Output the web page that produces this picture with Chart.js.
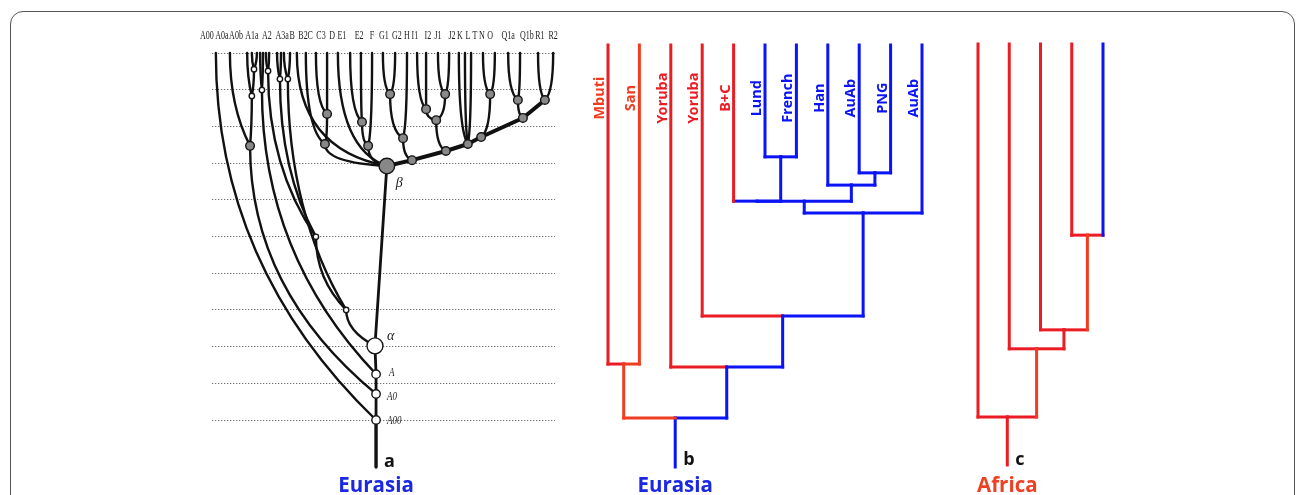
<!DOCTYPE html>
<html>
<head>
<meta charset="utf-8">
<title>Y tree rooting</title>
<script src="https://cdn.jsdelivr.net/npm/chart.js"></script>
<style>
html, body { margin: 0; padding: 0; background: #fff; }
#page { position: relative; width: 1296px; height: 495px; overflow: hidden; }
#page canvas { position: absolute; left: 0; top: 0; }
#frame { position: absolute; left: 10px; top: 11px; width: 1285px; height: 530px;
  border: 1.5px solid #555; border-radius: 13px; box-sizing: border-box; }
</style>
</head>
<body>
<div id="page">
  <div id="frame"></div>
  <canvas id="treeA" width="1296" height="495"></canvas>
  <canvas id="treeB" width="1296" height="495"></canvas>
  <canvas id="treeC" width="1296" height="495"></canvas>
</div>
<script>
const RED = '#ea1c24', ORANGE = '#ef3d22', BLUE = '#0b14f4', INK = '#111';

// ---- panel a: scanned haplogroup tree (x in scan units, y in grid rows) ----
const hapLabels = ['A00','A0a','A0b','A1a','A2','A3a','B','B2','C','C3','D','E1','E2','F','G1','G2',
  'H','I1','I2','J1','J2','K','L','T','N','O','Q1a','Q1b','R1','R2'];
const hapLabelPos = [1.9,6.1,10.0,14.4,18.6,22.8,25.6,28.6,30.6,33.6,36.7,39.4,44.2,47.8,51.1,54.7,
  57.5,59.7,63.3,66.1,70.0,72.2,74.4,76.4,78.3,80.6,85.6,90.8,94.4,98.1];

const nodeParentA = [-1,0,1,2,3,4, 1,2,7,7,9,9,11,11, 3,14,14, 4,17,18,19,19,18,22,22,17,25,25,
  5,5,29,29,31,31,5,5,35,36,36,35, 5,40,41,42,42,41, 40,46,47,48,48,47,51,51,
  46,54,54,54,54,58,59,59,58,62,63,63,62,66,66];
const nodeXA = [48.9,48.9,48.9,48.9,48.6,51.9, 4.4,13.9,8.3,14.4,13.1,15.0,14.4,15.8, 17.2,16.7,17.5,
  40.6,32.2,18.9,18.3,19.2,22.2,21.4,22.5,24.4,23.3,25.0,
  26.9,34.7,29.4,35.3,32.2,35.3,38.3,46.7,45.0,41.7,44.7,47.8, 58.9,56.4,52.8,50.8,54.2,57.5,
  68.3,65.6,62.8,60.3,62.8,68.1,66.1,69.2, 74.4,71.9,73.6,75.3,78.1,80.6,78.6,81.9,
  89.7,88.3,85.6,88.9,95.8,93.9,98.1];
const nodeYA = [-1.28,0,0.71,1.25,2.02,6.92, 10,7.47,10,8.83,10,9.56,10,10, 8.99,10,10,
  3.0,4.99,9.51,10,10,9.29,10,10,9.29,10,10,
  10,7.52,10,8.34,10,10,10,7.47,8.12,10,10,10, 7.08,7.68,8.88,10,10,10,
  7.33,8.17,8.47,10,10,8.88,10,10, 7.52,10,10,10,7.71,8.88,10,10,
  8.23,8.72,10,10,8.72,10,10];
const nodeKindA = ['none','ring','ring','ring','bigRing','hub', 'leaf','grey','leaf','dot','leaf','dot','leaf','leaf',
  'dot','leaf','leaf', 'dot','dot','dot','leaf','leaf','dot','leaf','leaf','dot','leaf','leaf',
  'leaf','grey','leaf','grey','leaf','leaf','leaf','grey','grey','leaf','leaf','leaf',
  'grey','grey','grey','leaf','leaf','leaf', 'grey','grey','grey','leaf','leaf','grey','leaf','leaf',
  'grey','leaf','leaf','leaf','grey','grey','leaf','leaf', 'grey','grey','leaf','leaf','grey','leaf','leaf'];
const nodeTagA = { 1: 'A00', 2: 'A0', 3: 'A', 4: 'α', 5: 'β' };

// ---- panel b: Eurasia-rooted tree (leaf index, branch height 0-100) ----
const leavesB = ['Mbuti','San','Yoruba','Yoruba','B+C','Lund','French','Han','AuAb','PNG','AuAb'];
const joinsB = [[5,6],[8,9],[7,12],[4,11],[14,13],[15,10],[3,16],[2,17],[0,1],[19,18]];
const joinHeightB = [73.5, 69.7, 66.8, 63.0, 63.0, 60.2, 35.8, 23.7, 24.4, 11.6];

// ---- panel c: Africa-rooted tree ----
const joinsC = [[3,4],[2,5],[1,6],[0,7]];
const joinHeightC = [54.6, 32.1, 27.6, 11.4];
const leafCountC = 5;

// styles
const vColB = [RED,ORANGE,RED,RED,RED,BLUE,BLUE,BLUE,BLUE,BLUE,BLUE, BLUE,BLUE,BLUE,BLUE,BLUE,BLUE,BLUE,BLUE,ORANGE,BLUE];
const hColB = [RED,ORANGE,RED,RED,BLUE,BLUE,BLUE,BLUE,BLUE,BLUE,BLUE, BLUE,BLUE,BLUE,BLUE,BLUE,BLUE,BLUE,BLUE,ORANGE,BLUE];
const labelColB = [ORANGE,ORANGE,RED,RED,RED,BLUE,BLUE,BLUE,BLUE,BLUE,BLUE];
const vColC = [RED,RED,RED,RED,BLUE,ORANGE,RED,ORANGE,RED];
const hColC = [RED,RED,RED,RED,RED,RED,RED,RED,RED];

const KIND = {
  ring:    { r: 4.2, fill: '#fff' },
  bigRing: { r: 8,   fill: '#fff' },
  dot:     { r: 2.7, fill: '#fff' },
  grey:    { r: 4.3, fill: '#888' },
  hub:     { r: 7.8, fill: '#888' }
};
const trunkA = [1, 2, 3, 4, 5];
const spineA = [40, 46, 54, 58, 62, 66];
const tagOffsetA = { 1: [11, 1], 2: [11, 3], 3: [13, -1], 4: [12, -10], 5: [9, 17] };

function underBeta(i) {
  while (i >= 0) { if (i === 5) return true; i = nodeParentA[i]; }
  return false;
}

function caption(chart, rx, ry, letter, region, color) {
  const ctx = chart.ctx;
  ctx.save();
  ctx.fillStyle = '#111';
  ctx.font = 'bold 18px "Open Sans"';
  ctx.textAlign = 'left';
  ctx.textBaseline = 'alphabetic';
  ctx.fillText(letter, rx + 8, ry);
  ctx.fillStyle = color;
  ctx.font = 'bold 20.5px "Open Sans"';
  ctx.textAlign = 'center';
  ctx.fillText(region, rx, 492);
  ctx.restore();
}

const treeAPlugin = {
  id: 'treeA',
  beforeDatasetsDraw(chart) {
    const { ctx, scales: { x, y } } = chart;
    ctx.save();
    ctx.strokeStyle = INK;
    ctx.lineCap = 'round';
    nodeParentA.forEach((p, i) => {
      if (p < 0) return;
      const x0 = x.getPixelForValue(nodeXA[p]), y0 = y.getPixelForValue(nodeYA[p]);
      const x1 = x.getPixelForValue(nodeXA[i]), y1 = y.getPixelForValue(nodeYA[i]);
      ctx.beginPath();
      ctx.moveTo(x0, y0);
      if (trunkA.includes(i) || spineA.includes(i)) {
        ctx.lineWidth = spineA.includes(i) ? 4 : 2.8;
        ctx.lineTo(x1, y1);
      } else {
        ctx.lineWidth = 2.4;
        const f = underBeta(i) ? 0.15 : 0.42;
        ctx.quadraticCurveTo(x1, y0 + (y1 - y0) * f, x1, y1);
      }
      ctx.stroke();
    });
    // root stem
    ctx.lineWidth = 3;
    ctx.beginPath();
    ctx.moveTo(x.getPixelForValue(nodeXA[0]), y.getPixelForValue(nodeYA[0]));
    ctx.lineTo(x.getPixelForValue(nodeXA[1]), y.getPixelForValue(nodeYA[1]));
    ctx.stroke();
    ctx.restore();
  },
  afterDatasetsDraw(chart) {
    const { ctx, scales: { x, y } } = chart;
    ctx.save();
    ctx.fillStyle = '#222';
    ctx.font = '12.5px "Liberation Serif"';
    ctx.textAlign = 'center';
    ctx.textBaseline = 'alphabetic';
    const base = y.getPixelForValue(10) - 14;
    hapLabels.forEach((t, i) => {
      ctx.save();
      ctx.translate(x.getPixelForValue(hapLabelPos[i]), base);
      ctx.scale(0.64, 1);
      ctx.fillText(t, 0, 0);
      ctx.restore();
    });
    ctx.textAlign = 'left';
    ctx.textBaseline = 'middle';
    Object.keys(nodeTagA).forEach(k => {
      const t = nodeTagA[k], off = tagOffsetA[k];
      const greek = t === 'α' || t === 'β';
      ctx.font = greek ? 'italic 14px "Liberation Serif"' : 'italic 11.5px "Liberation Serif"';
      ctx.save();
      ctx.translate(x.getPixelForValue(nodeXA[k]) + off[0], y.getPixelForValue(nodeYA[k]) + off[1]);
      if (!greek) ctx.scale(0.78, 1);
      ctx.fillText(t, 0, 0);
      ctx.restore();
    });
    ctx.restore();
    caption(chart, x.getPixelForValue(nodeXA[0]), y.getPixelForValue(nodeYA[0]), 'a', 'Eurasia', '#1b28e2');
  }
};

const nodeIdxA = nodeKindA.map((k, i) => i).filter(i => KIND[nodeKindA[i]]);

new Chart(document.getElementById('treeA'), {
  type: 'scatter',
  data: {
    datasets: [{
      data: nodeIdxA.map(i => ({ x: nodeXA[i], y: nodeYA[i] })),
      pointRadius: nodeIdxA.map(i => KIND[nodeKindA[i]].r),
      pointBackgroundColor: nodeIdxA.map(i => KIND[nodeKindA[i]].fill),
      pointBorderColor: '#151515',
      pointBorderWidth: 1.4,
      showLine: false,
      clip: false
    }]
  },
  options: {
    responsive: false,
    animation: false,
    events: [],
    layout: { padding: { left: 212, right: 741, top: 53, bottom: 75 } },
    plugins: { legend: { display: false }, tooltip: { enabled: false } },
    scales: {
      x: { type: 'linear', min: 3.333, max: 98.61, display: false },
      y: {
        type: 'linear', min: 0, max: 10, position: 'left',
        ticks: { display: false, stepSize: 1 },
        grid: { color: '#6f6f6f', lineWidth: 1, drawTicks: false },
        border: { display: false, dash: [1.3, 1.7] }
      }
    }
  },
  plugins: [treeAPlugin]
});

function dendroDatasets(leafN, joins, heights, vCol, hCol, width) {
  const xs = [], hs = [];
  for (let i = 0; i < leafN; i++) { xs.push(i); hs.push(100); }
  joins.forEach((j, k) => { xs.push((xs[j[0]] + xs[j[1]]) / 2); hs.push(heights[k]); });
  const sets = [];
  const seg = (a, b, c) => sets.push({
    data: [a, b], borderColor: c, borderWidth: width, showLine: true,
    pointRadius: 0, borderCapStyle: 'square', clip: false
  });
  joins.forEach((j, k) => {
    const n = leafN + k;
    j.forEach(c => { if (hs[c] !== hs[n]) seg({ x: xs[c], y: hs[c] }, { x: xs[c], y: hs[n] }, vCol[c]); });
  });
  joins.forEach((j, k) => {
    const n = leafN + k;
    j.forEach(c => seg({ x: xs[c], y: hs[n] }, { x: xs[n], y: hs[n] }, hCol[c]));
  });
  const root = xs.length - 1;
  seg({ x: xs[root], y: hs[root] }, { x: xs[root], y: 0 }, vCol[root]);
  return { sets, rootX: xs[root] };
}

const treeB = dendroDatasets(leavesB.length, joinsB, joinHeightB, vColB, hColB, 3);
const labelLevelB = 87.4;

new Chart(document.getElementById('treeB'), {
  type: 'scatter',
  data: { datasets: treeB.sets },
  options: {
    responsive: false,
    animation: false,
    events: [],
    layout: { padding: { left: 608, right: 374, top: 45, bottom: 28 } },
    plugins: { legend: { display: false }, tooltip: { enabled: false } },
    scales: {
      x: { type: 'linear', min: 0, max: 10, display: false },
      y: { type: 'linear', min: 0, max: 100, display: false }
    }
  },
  plugins: [{
    id: 'labelsB',
    afterDatasetsDraw(chart) {
      const { ctx, scales: { x, y } } = chart;
      ctx.save();
      ctx.font = 'bold 14.5px "Noto Sans"';
      ctx.textAlign = 'center';
      ctx.textBaseline = 'alphabetic';
      leavesB.forEach((t, i) => {
        ctx.save();
        ctx.translate(x.getPixelForValue(i) - 4, y.getPixelForValue(labelLevelB));
        ctx.rotate(-Math.PI / 2);
        ctx.fillStyle = labelColB[i];
        ctx.fillText(t, 0, 0);
        ctx.restore();
      });
      ctx.restore();
      caption(chart, x.getPixelForValue(treeB.rootX), y.getPixelForValue(0) - 2, 'b', 'Eurasia', '#1b28e2');
    }
  }]
});

const treeC = dendroDatasets(leafCountC, joinsC, joinHeightC, vColC, hColC, 3);

new Chart(document.getElementById('treeC'), {
  type: 'scatter',
  data: { datasets: treeC.sets },
  options: {
    responsive: false,
    animation: false,
    events: [],
    layout: { padding: { left: 978, right: 193, top: 44, bottom: 30 } },
    plugins: { legend: { display: false }, tooltip: { enabled: false } },
    scales: {
      x: { type: 'linear', min: 0, max: 4, display: false },
      y: { type: 'linear', min: 0, max: 100, display: false }
    }
  },
  plugins: [{
    id: 'labelsC',
    afterDatasetsDraw(chart) {
      const { x, y } = chart.scales;
      caption(chart, x.getPixelForValue(treeC.rootX), y.getPixelForValue(0), 'c', 'Africa', '#ee4023');
    }
  }]
});
</script>
</body>
</html>
